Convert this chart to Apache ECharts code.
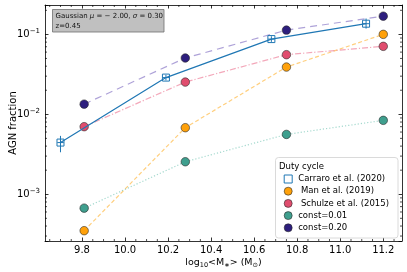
<!DOCTYPE html>
<html><head><meta charset="utf-8">
<script src="https://cdn.jsdelivr.net/npm/echarts@6/dist/echarts.min.js"></script>
<style>html,body{margin:0;padding:0;background:#fff}#c{width:407px;height:272px}</style>
</head><body><div id="c"></div>
<script>
// ---- data ----
const massBins = [9.81, 10.28, 10.75, 11.2];
const manFrac = [0.00035, 0.0068, 0.039, 0.100];
const schulzeFrac = [0.0070, 0.0253, 0.0557, 0.0708];
const const001Frac = [0.00067, 0.00255, 0.0056, 0.0084];
const const020Frac = [0.0134, 0.0506, 0.113, 0.169];
const carraroMass = [9.70, 10.19, 10.68, 11.12];
const carraroFrac = [0.00443, 0.0288, 0.0873, 0.136];
const carraroLo = [0.00335, 0.0266, 0.0805, 0.118];
const carraroHi = [0.00537, 0.0312, 0.0947, 0.158];
const carraroXErr = [0.015, 0.015, 0.015, 0.015];
const xMin = 9.628, xMax = 11.287;
const yMin = 2.6e-4, yMax = 0.233;
const seriesNames = ['Carraro et al. (2020)', ' Man et al. (2019)', ' Schulze et al. (2015)', 'const=0.01', 'const=0.20'];
const colors = {carraro:'#1f77b4', man:'#ffa10a', schulze:'#e04d6e', c001:'#3f9f8e', c020:'#2d1e7e'};
const lineColors = {man:'rgba(255,175,40,0.6)', schulze:'rgba(235,110,140,0.6)', c001:'rgba(90,185,165,0.55)', c020:'rgba(120,100,190,0.6)'};

// minor tick positions (axis decoration)
const xMinor = [];
for (let k = Math.ceil(xMin / 0.05); k * 0.05 <= xMax; k++) {
  if (k % 4 !== 0) xMinor.push(+(k * 0.05).toFixed(2));
}
const yMinor = [];
for (let e = -4; e <= 0; e++) for (let m = 2; m <= 9; m++) {
  const v = m * Math.pow(10, e);
  if (v > yMin && v < yMax) yMinor.push(v);
}

const pair = (xs, ys) => xs.map((x, i) => [x, ys[i]]);
const chart = echarts.init(document.getElementById('c'), null, {renderer: 'canvas'});
const FONT = 'DejaVu Sans';
const mk = (name, data, color, lcolor, dash) => ({
  name, type: 'line', data, symbol: 'circle', symbolSize: 8.5,
  itemStyle: {color, borderColor: '#2a2a2a', borderWidth: 0.6},
  lineStyle: {color: lcolor, width: 1.2, type: dash},
  z: 3, animation: false
});
const tickSeries = (data, axis) => ({
  type: 'custom', data: data.map(v => [v]), silent: true, z: 5, animation: false,
  clip: false,
  renderItem: (params, api) => {
    const v = api.value(0);
    let a, b;
    if (axis === 'x') {
      a = api.coord([v, yMin]); b = api.coord([v, yMax]);
      return {type: 'group', children: [
        {type: 'line', shape: {x1: a[0], y1: a[1], x2: a[0], y2: a[1] - 2}, style: {stroke: '#000', lineWidth: 0.7}},
        {type: 'line', shape: {x1: b[0], y1: b[1], x2: b[0], y2: b[1] + 2}, style: {stroke: '#000', lineWidth: 0.7}}
      ]};
    } else {
      a = api.coord([xMin, v]); b = api.coord([xMax, v]);
      return {type: 'group', children: [
        {type: 'line', shape: {x1: a[0], y1: a[1], x2: a[0] + 2, y2: a[1]}, style: {stroke: '#000', lineWidth: 0.7}},
        {type: 'line', shape: {x1: b[0], y1: b[1], x2: b[0] - 2, y2: b[1]}, style: {stroke: '#000', lineWidth: 0.7}}
      ]};
    }
  }
});
const powLabel = v => {
  const l = Math.log10(v), n = Math.round(l);
  if (Math.abs(l - n) > 1e-6) return '';
  return '{b|10}{s|−' + Math.abs(n) + '}';
};
const axisCommon = {
  axisLine: {lineStyle: {color: '#000', width: 0.8}},
  axisTick: {inside: true, length: 3.5, lineStyle: {color: '#000', width: 0.8}},
  splitLine: {show: false}
};
const option = {
  animation: false,
  backgroundColor: '#fff',
  grid: {left: 45, right: 5, top: 5, bottom: 31, containLabel: false, outerBoundsMode: 'none'},
  xAxis: [
    Object.assign({type: 'value', min: xMin, max: xMax, splitNumber: 8, position: 'bottom',
      axisLabel: {fontFamily: FONT, fontSize: 10, color: '#000', margin: 4,
        showMinLabel: false, showMaxLabel: false,
        formatter: v => (Math.abs(v * 5 - Math.round(v * 5)) < 1e-6 ? v.toFixed(1) : '')},
      name: 'log{s|10}<M{s|∗}> (M{s|⊙})', nameLocation: 'middle', nameGap: 16, nameMoveOverlap: false,
      nameTextStyle: {fontFamily: FONT, fontSize: 9.5, color: '#000',
        rich: {s: {fontFamily: FONT, fontSize: 6.5, color: '#000', padding: [5, 0, 0, 0]}}}
    }, axisCommon),
    Object.assign({type: 'value', min: xMin, max: xMax, splitNumber: 8, position: 'top',
      axisLabel: {show: false}}, axisCommon)
  ],
  yAxis: [
    Object.assign({type: 'log', logBase: 10, min: yMin, max: yMax, splitNumber: 3,
      axisLabel: {fontFamily: FONT, fontSize: 10, color: '#000', margin: 5,
        formatter: powLabel,
        rich: {b: {fontFamily: FONT, fontSize: 10, color: '#000'},
               s: {fontFamily: FONT, fontSize: 7, color: '#000', padding: [0, 0, 7, 0]}}},
      name: 'AGN fraction', nameLocation: 'middle', nameGap: 27, nameRotate: 90, nameMoveOverlap: false,
      nameTextStyle: {fontFamily: FONT, fontSize: 10, color: '#000'}
    }, axisCommon),
    Object.assign({type: 'log', logBase: 10, min: yMin, max: yMax, splitNumber: 3, position: 'right',
      axisLabel: {show: false}}, axisCommon)
  ],
  legend: {
    orient: 'vertical', left: 283.7, top: 174, itemWidth: 8, itemHeight: 8, itemGap: 2.2,
    padding: 0,
    textStyle: {fontFamily: FONT, fontSize: 8.5, color: '#000', lineHeight: 10, padding: [0, 0, 0, 1]},
    selectedMode: false,
    data: [
      {name: seriesNames[0], icon: 'rect', itemStyle: {color: '#fff', borderColor: colors.carraro, borderWidth: 1}},
      {name: seriesNames[1], icon: 'circle', itemStyle: {color: colors.man, borderColor: '#2a2a2a', borderWidth: 0.6}},
      {name: seriesNames[2], icon: 'circle', itemStyle: {color: colors.schulze, borderColor: '#2a2a2a', borderWidth: 0.6}},
      {name: seriesNames[3], icon: 'circle', itemStyle: {color: colors.c001, borderColor: '#2a2a2a', borderWidth: 0.6}},
      {name: seriesNames[4], icon: 'circle', itemStyle: {color: colors.c020, borderColor: '#2a2a2a', borderWidth: 0.6}}
    ]
  },
  graphic: [
    {type: 'rect', z: 10, shape: {x: 52.5, y: 9.5, width: 111.5, height: 22.5},
     style: {fill: '#c0c0c0', stroke: '#707070', lineWidth: 0.8}},
    {type: 'text', z: 11, x: 55.5, y: 11.5,
     style: {text: 'Gaussian {i|μ} = − 2.00, {i|σ} = 0.30\nz=0.45', fill: '#111',
       font: '7px "DejaVu Sans"', lineHeight: 10,
       rich: {i: {fontFamily: FONT, fontSize: 7, fontStyle: 'italic', fill: '#111', lineHeight: 10}}}},
    {type: 'rect', z: 1, shape: {x: 275.5, y: 157.5, width: 122.5, height: 80.5, r: 3},
     style: {fill: 'rgba(255,255,255,0.85)', stroke: '#d0d0d0', lineWidth: 0.8}},
    {type: 'text', z: 11, x: 279, y: 162,
     style: {text: 'Duty cycle', font: '8.5px "DejaVu Sans"', fill: '#000'}}
  ],
  series: [
    {name: seriesNames[0], type: 'line', data: pair(carraroMass, carraroFrac),
     symbol: 'rect', symbolSize: 7, z: 4,
     itemStyle: {color: 'rgba(255,255,255,0)', borderColor: colors.carraro, borderWidth: 1},
     lineStyle: {color: colors.carraro, width: 1.2}},
    {type: 'custom', z: 4, silent: true, clip: false,
     data: carraroMass.map((x, i) => [x, carraroFrac[i], carraroLo[i], carraroHi[i], carraroXErr[i]]),
     renderItem: (params, api) => {
       const x = api.value(0), y = api.value(1);
       const lo = api.coord([x, api.value(2)]), hi = api.coord([x, api.value(3)]);
       const l = api.coord([x - api.value(4), y]), r = api.coord([x + api.value(4), y]);
       const st = {stroke: colors.carraro, lineWidth: 1};
       return {type: 'group', children: [
         {type: 'line', shape: {x1: lo[0], y1: lo[1], x2: hi[0], y2: hi[1]}, style: st},
         {type: 'line', shape: {x1: l[0], y1: l[1], x2: r[0], y2: r[1]}, style: st}
       ]};
     }},
    mk(seriesNames[1], pair(massBins, manFrac), colors.man, lineColors.man, [4, 2.5]),
    mk(seriesNames[2], pair(massBins, schulzeFrac), colors.schulze, lineColors.schulze, [6, 2, 1.2, 2]),
    mk(seriesNames[3], pair(massBins, const001Frac), colors.c001, lineColors.c001, [1.2, 2]),
    mk(seriesNames[4], pair(massBins, const020Frac), colors.c020, lineColors.c020, [7, 5]),
    tickSeries(xMinor, 'x'),
    tickSeries(yMinor, 'y')
  ]
};
chart.setOption(option);
</script></body></html>
